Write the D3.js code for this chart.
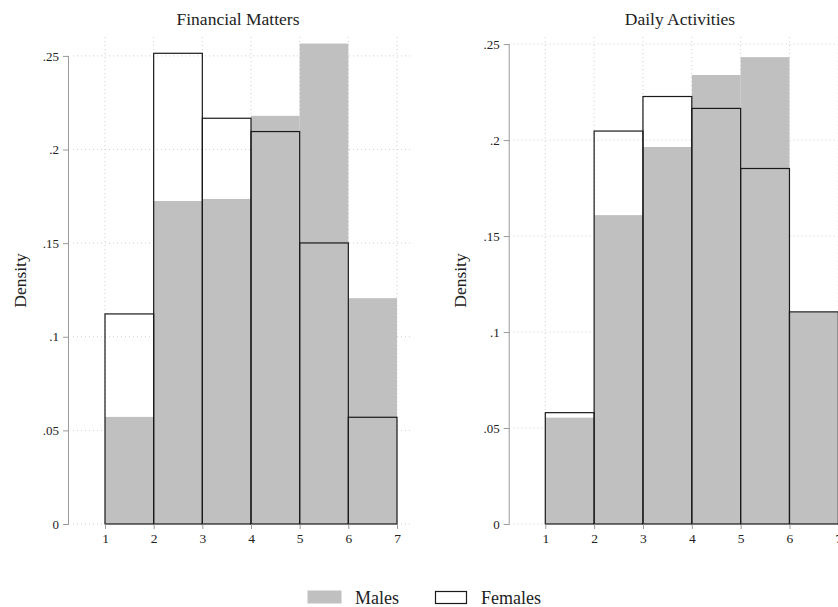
<!DOCTYPE html>
<html>
<head>
<meta charset="utf-8">
<script src="https://cdn.jsdelivr.net/npm/d3@7"></script>
<style>
  body { margin: 0; background: #fff; }
  svg { font-family: "Liberation Serif", "Times New Roman", serif; }
</style>
</head>
<body>
<svg id="chart" width="838" height="607"></svg>
<script>
// histogram bins 1-2, 2-3, ... 6-7
const binEdges = [1, 2, 3, 4, 5, 6, 7];
const xTicks = [1, 2, 3, 4, 5, 6, 7];
const yTicks = [0, 0.05, 0.1, 0.15, 0.2, 0.25];
const yTickLabels = ["0", ".05", ".1", ".15", ".2", ".25"];
const panelTitles = ["Financial Matters", "Daily Activities"];
const seriesNames = ["Males", "Females"];

const financialMales   = [0.0572, 0.1725, 0.1736, 0.2180, 0.2566, 0.1206];
const financialFemales = [0.1122, 0.2514, 0.2167, 0.2096, 0.1501, 0.0570];
const dailyMales       = [0.0554, 0.1609, 0.1964, 0.2339, 0.2432, 0.1103];
const dailyFemales     = [0.0580, 0.2047, 0.2227, 0.2165, 0.1852, 0.1105];

const svg = d3.select("#chart");

const panels = [
  { title: panelTitles[0], males: financialMales, females: financialFemales,
    axisX: 69, x1: 105, x7: 397, right: 410, yTop: 0.2601, labelX: 20, titleX: 238 },
  { title: panelTitles[1], males: dailyMales, females: dailyFemales,
    axisX: 509.7, x1: 545.3, x7: 838.3, right: 852, yTop: 0.2537, labelX: 460, titleX: 680 }
];

const plotTop = 37, plotBottom = 524;

panels.forEach(p => {
  const g = svg.append("g");
  const x = d3.scaleLinear().domain([1, 7]).range([p.x1, p.x7]);
  const y = d3.scaleLinear().domain([0, p.yTop]).range([plotBottom, plotTop]);

  // gridlines
  g.selectAll(".hgrid").data(yTicks).enter().append("line")
    .attr("x1", p.axisX + 4).attr("x2", p.right)
    .attr("y1", d => y(d)).attr("y2", d => y(d))
    .attr("stroke", "#d0d0d0").attr("stroke-width", 1)
    .attr("stroke-dasharray", "1,3");
  g.selectAll(".vgrid").data(xTicks).enter().append("line")
    .attr("x1", d => x(d)).attr("x2", d => x(d))
    .attr("y1", plotTop).attr("y2", plotBottom)
    .attr("stroke", "#d0d0d0").attr("stroke-width", 1)
    .attr("stroke-dasharray", "1,3");

  const bins = p.males.map((m, i) => ({ x0: binEdges[i], x1: binEdges[i + 1], m: m, f: p.females[i] }));

  // males: solid grey
  g.selectAll(".male").data(bins).enter().append("rect")
    .attr("x", d => x(d.x0))
    .attr("width", d => x(d.x1) - x(d.x0))
    .attr("y", d => y(d.m))
    .attr("height", d => y(0) - y(d.m))
    .attr("fill", "#c0c0c0");

  // females: outline only
  g.selectAll(".female").data(bins).enter().append("rect")
    .attr("x", d => x(d.x0))
    .attr("width", d => x(d.x1) - x(d.x0))
    .attr("y", d => y(d.f))
    .attr("height", d => y(0) - y(d.f))
    .attr("fill", "none")
    .attr("stroke", "#1a1a1a")
    .attr("stroke-width", 1.2);

  // y axis
  const yAxis = d3.axisLeft(y).tickValues(yTicks)
    .tickFormat((d, i) => yTickLabels[i]).tickSize(6).tickPadding(4);
  const ya = g.append("g").attr("transform", `translate(${p.axisX},0)`).call(yAxis);
  ya.select(".domain").attr("stroke", "#9a9a9a").attr("d", `M-0.5,${y(0.25)}V${y(0)}`);
  ya.selectAll(".tick line").attr("stroke", "#9a9a9a");
  ya.selectAll(".tick text").attr("font-size", 13).attr("fill", "#222")
    .style("font-family", "Liberation Serif, serif");

  // x axis (ticks only)
  const xAxis = d3.axisBottom(x).tickValues(xTicks).tickFormat(d3.format("d"))
    .tickSize(5).tickPadding(4);
  const xa = g.append("g").attr("transform", `translate(0,${plotBottom})`).call(xAxis);
  xa.select(".domain").remove();
  xa.selectAll(".tick line").attr("stroke", "#9a9a9a");
  xa.selectAll(".tick text").attr("font-size", 13.5).attr("fill", "#222")
    .style("font-family", "Liberation Serif, serif");

  // title
  g.append("text")
    .attr("x", p.titleX)
    .attr("y", 25)
    .attr("text-anchor", "middle")
    .attr("font-size", 17.5)
    .attr("fill", "#222")
    .text(p.title);

  // y label
  g.append("text")
    .attr("transform", `translate(${p.labelX + 6},${(plotTop + plotBottom) / 2}) rotate(-90)`)
    .attr("text-anchor", "middle")
    .attr("font-size", 17.5)
    .attr("fill", "#222")
    .text("Density");
});

// legend
const legend = svg.append("g");
legend.append("rect").attr("x", 307.5).attr("y", 590.5).attr("width", 34).attr("height", 13)
  .attr("fill", "#c0c0c0");
legend.append("text").attr("x", 355).attr("y", 604).attr("font-size", 18).attr("fill", "#222")
  .text(seriesNames[0]);
legend.append("rect").attr("x", 435.5).attr("y", 591.5).attr("width", 31).attr("height", 12)
  .attr("fill", "none").attr("stroke", "#1a1a1a").attr("stroke-width", 1.2);
legend.append("text").attr("x", 481).attr("y", 604).attr("font-size", 18).attr("fill", "#222")
  .text(seriesNames[1]);
</script>
</body>
</html>
